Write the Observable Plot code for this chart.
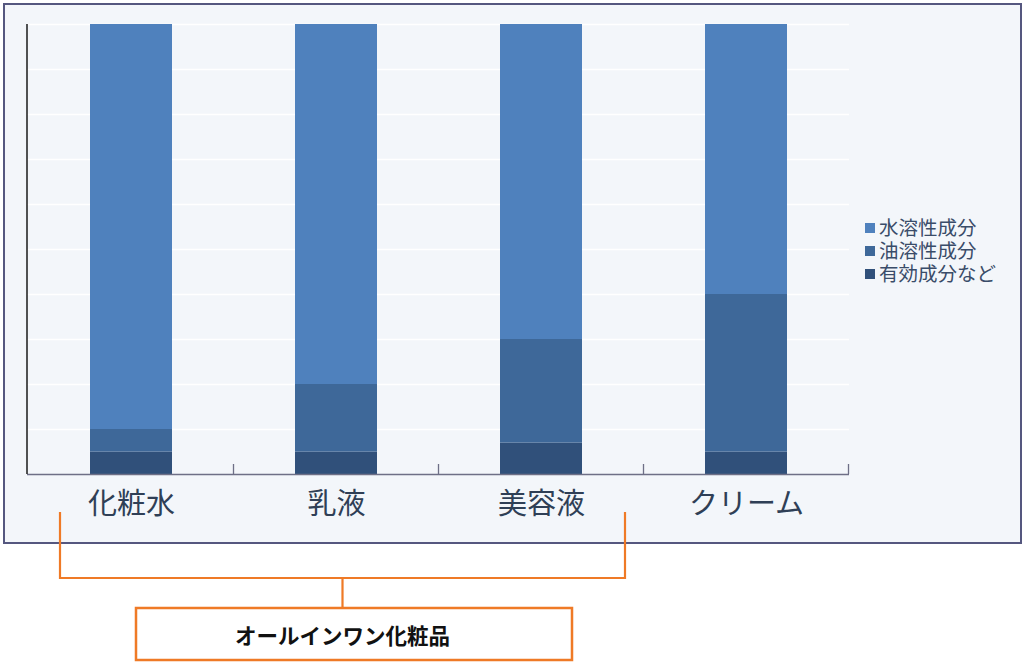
<!DOCTYPE html>
<html>
<head>
<meta charset="utf-8">
<script src="https://cdn.jsdelivr.net/npm/d3@7"></script>
<script src="https://cdn.jsdelivr.net/npm/@observablehq/plot@0.6"></script>
<style>
  html, body { margin: 0; padding: 0; background: #ffffff; }
  #wrap { position: relative; width: 1024px; height: 663px; overflow: hidden; font-family: "Noto Sans CJK JP", "Noto Sans", sans-serif; }
  #frame { position: absolute; left: 3px; top: 3px; width: 1015px; height: 537px; border: 2px solid #55577f; background: #f3f6fa; }
  #chart { position: absolute; left: 0; top: 0; }
  #legend { position: absolute; left: 865px; top: 216px; font-size: 19.5px; color: #3a4c69;
            font-family: "Liberation Sans", "Noto Sans CJK JP", sans-serif; }
  #legend .row { display: flex; align-items: center; white-space: nowrap; height: 23px; }
  #legend .sw { width: 10px; height: 10px; margin-right: 4px; display: inline-block; }
  #legend .lab { display: inline-block; line-height: 22px; }
  #bracket { position: absolute; left: 0; top: 0; }
</style>
</head>
<body>
<div id="wrap">
  <div id="frame"></div>
  <div id="chart"></div>
  <div id="legend"></div>
  <svg id="bracket" width="1024" height="663"></svg>
</div>
<script>
// ---- data ----
const categories = ["化粧水", "乳液", "美容液", "クリーム"];
const seriesNames = ["有効成分など", "油溶性成分", "水溶性成分"]; // bottom to top
const effective = [5, 5, 7, 5];
const oil = [5, 15, 23, 35];
const water = [90, 80, 70, 60];
const seriesColors = ["#30507a", "#3e6899", "#4f81bd"];
const legendOrder = ["水溶性成分", "油溶性成分", "有効成分など"];
const yTicks = [10, 20, 30, 40, 50, 60, 70, 80, 90, 100];
const groupLabel = "オールインワン化粧品";

const valuesBySeries = [effective, oil, water];
const rows = [];
seriesNames.forEach((s, si) => {
  categories.forEach((c, ci) => rows.push({category: c, series: s, value: valuesBySeries[si][ci]}));
});

const chart = Plot.plot({
  width: 1024,
  height: 545,
  marginLeft: 27,
  marginRight: 175,
  marginTop: 24,
  marginBottom: 71,
  style: {background: "transparent", fontFamily: "'Noto Sans CJK JP', sans-serif"},
  x: {domain: categories, paddingInner: 0.6, paddingOuter: 0.3, label: null},
  y: {domain: [0, 100], label: null, axis: null},
  color: {domain: seriesNames, range: seriesColors},
  marks: [
    Plot.gridY(yTicks, {stroke: "#ffffff", strokeOpacity: 1, strokeWidth: 1.6}),
    Plot.barY(rows, {x: "category", y: "value", fill: "series", order: seriesNames}),
    Plot.ruleY([0], {stroke: "#6e6f86", strokeWidth: 1.3}),
    Plot.axisX({tickSize: 0, tickPadding: 19, fontSize: 29, fill: "#2f3f56"}),
  ]
});
document.getElementById("chart").appendChild(chart);

// left axis line and between-category ticks from the chart's scales
const xs = chart.scale("x");
const ys = chart.scale("y");
const svg = d3.select(chart);
const y0 = ys.apply(0), y1 = ys.apply(100);
const x0 = xs.range[0];
svg.append("line").attr("x1", x0).attr("x2", x0).attr("y1", y1).attr("y2", y0)
  .attr("stroke", "#1a1a1a").attr("stroke-width", 1.5);
categories.forEach(c => {
  const bx = xs.apply(c) + xs.bandwidth / 2 + xs.step / 2;
  svg.append("line").attr("x1", bx).attr("x2", bx).attr("y1", y0).attr("y2", y0 - 10)
    .attr("stroke", "#6e6f86").attr("stroke-width", 1.3);
});

// legend
const legend = d3.select("#legend");
legendOrder.forEach(name => {
  const row = legend.append("div").attr("class", "row");
  row.append("span").attr("class", "sw").style("background", seriesColors[seriesNames.indexOf(name)]);
  row.append("span").attr("class", "lab").text(name);
});

// bracket annotation
const b = d3.select("#bracket");
const orange = "#ef7a26";
const bl = 60, br = 625, bTop = 512, bY = 578;
const mid = (bl + br) / 2;
b.append("path")
  .attr("d", `M${bl},${bTop}V${bY}H${br}V${bTop}M${mid},${bY}V608`)
  .attr("fill", "none").attr("stroke", orange).attr("stroke-width", 2.2);
b.append("rect").attr("x", 136).attr("y", 608).attr("width", 436).attr("height", 52)
  .attr("fill", "#ffffff").attr("stroke", orange).attr("stroke-width", 2.5);
b.append("text").attr("x", mid).attr("y", 636).attr("dy", "0.35em")
  .attr("text-anchor", "middle").attr("font-size", 21.5).attr("font-weight", "bold")
  .attr("font-family", "'Noto Sans CJK JP', sans-serif").attr("fill", "#111").text(groupLabel);
</script>
</body>
</html>
